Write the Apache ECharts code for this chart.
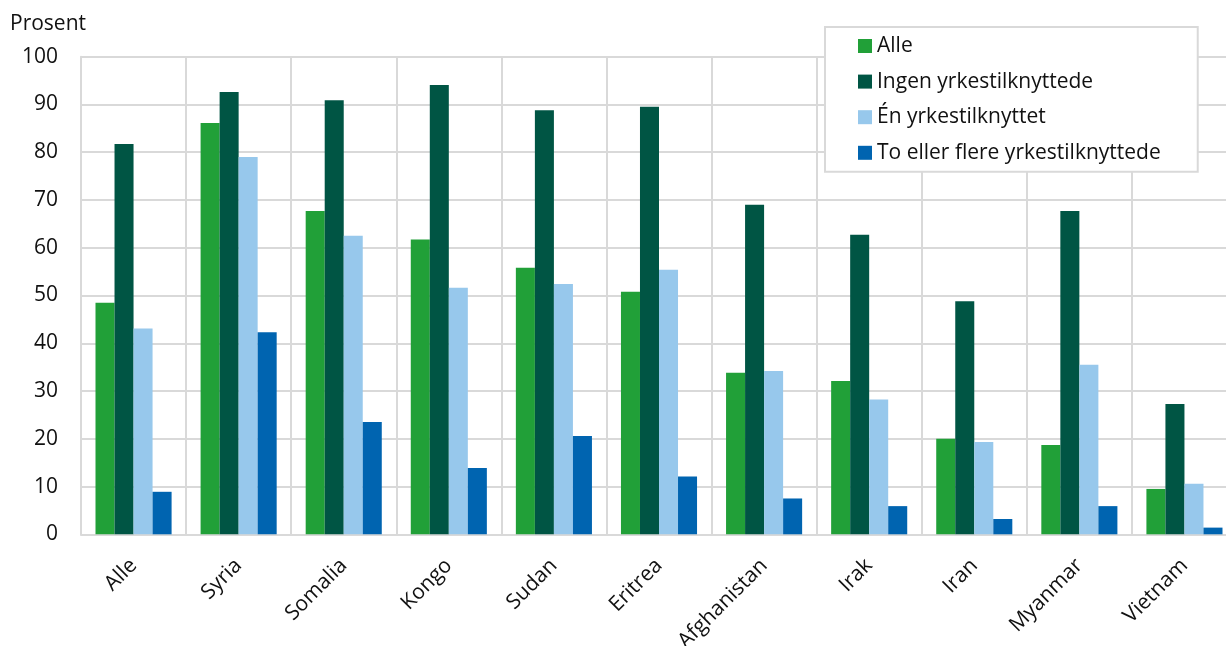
<!DOCTYPE html>
<html>
<head>
<meta charset="utf-8">
<script src="https://cdn.jsdelivr.net/npm/echarts@6/dist/echarts.min.js"></script>
<style>
html,body{margin:0;padding:0;background:#fff;overflow:hidden;width:1226px;height:646px;}
#chart{width:1240px;height:646px;}
</style>
</head>
<body>
<div id="chart"></div>
<script>
const categories = ['Alle','Syria','Somalia','Kongo','Sudan','Eritrea','Afghanistan','Irak','Iran','Myanmar','Vietnam'];
const seriesNames = ['Alle','Ingen yrkestilknyttede','Én yrkestilknyttet','To eller flere yrkestilknyttede'];
const alle =   [48.5, 86.1, 67.7, 61.7, 55.8, 50.8, 33.8, 32.1, 20.0, 18.7, 9.5];
const ingen =  [81.7, 92.6, 90.9, 94.1, 88.8, 89.5, 69.0, 62.7, 48.8, 67.7, 27.3];
const en =     [43.1, 79.0, 62.5, 51.6, 52.4, 55.4, 34.2, 28.2, 19.3, 35.5, 10.6];
const toFlere = [8.9, 42.3, 23.5, 13.9, 20.6, 12.1, 7.5, 5.9, 3.2, 5.9, 1.4];
const yTicks = [0, 10, 20, 30, 40, 50, 60, 70, 80, 90, 100];
const colors = ['#21a038', '#005544', '#97c8ec', '#0064b0'];

const chart = echarts.init(document.getElementById('chart'), null, {renderer: 'canvas'});
const font = '"Open Sans", "Noto Sans", sans-serif';
const dataSets = [alle, ingen, en, toFlere];
chart.setOption({
  animation: false,
  textStyle: {fontFamily: font},
  title: {
    text: 'Prosent', left: 10, top: 14, padding: 0,
    textStyle: {fontFamily: font, fontSize: 21, fontWeight: 'normal', color: '#111'}
  },
  legend: {
    orient: 'vertical',
    left: 825, top: 27,
    padding: [8.5, 37, 8.5, 33],
    itemGap: 14.6,
    itemWidth: 14, itemHeight: 14,
    icon: 'rect',
    backgroundColor: '#fff',
    borderColor: '#d9d9d9', borderWidth: 2,
    textStyle: {fontFamily: font, fontSize: 21, color: '#111', lineHeight: 21},
    data: seriesNames
  },
  grid: {left: 81, top: 56.7, right: 3, bottom: 111.7, containLabel: false, outerBoundsMode: 'none'},
  xAxis: {
    type: 'category',
    data: categories,
    axisTick: {show: false},
    axisLine: {show: true, lineStyle: {color: '#d9d9d9', width: 2}},
    splitLine: {show: true, lineStyle: {color: '#d9d9d9', width: 2}},
    axisLabel: {rotate: 45, fontFamily: font, fontSize: 21, color: '#111', margin: 28, interval: 0}
  },
  yAxis: {
    type: 'value', min: yTicks[0], max: yTicks[yTicks.length - 1], interval: 10,
    axisLine: {show: true, lineStyle: {color: '#d9d9d9', width: 2}},
    axisTick: {show: false},
    splitLine: {show: true, lineStyle: {color: '#d9d9d9', width: 2}},
    axisLabel: {fontFamily: font, fontSize: 21, color: '#111', margin: 23}
  },
  series: seriesNames.map((name, i) => ({
    name: name,
    type: 'bar',
    data: dataSets[i],
    barGap: '0%',
    barCategoryGap: '27.6%',
    itemStyle: {color: colors[i]}
  }))
});
</script>
</body>
</html>
